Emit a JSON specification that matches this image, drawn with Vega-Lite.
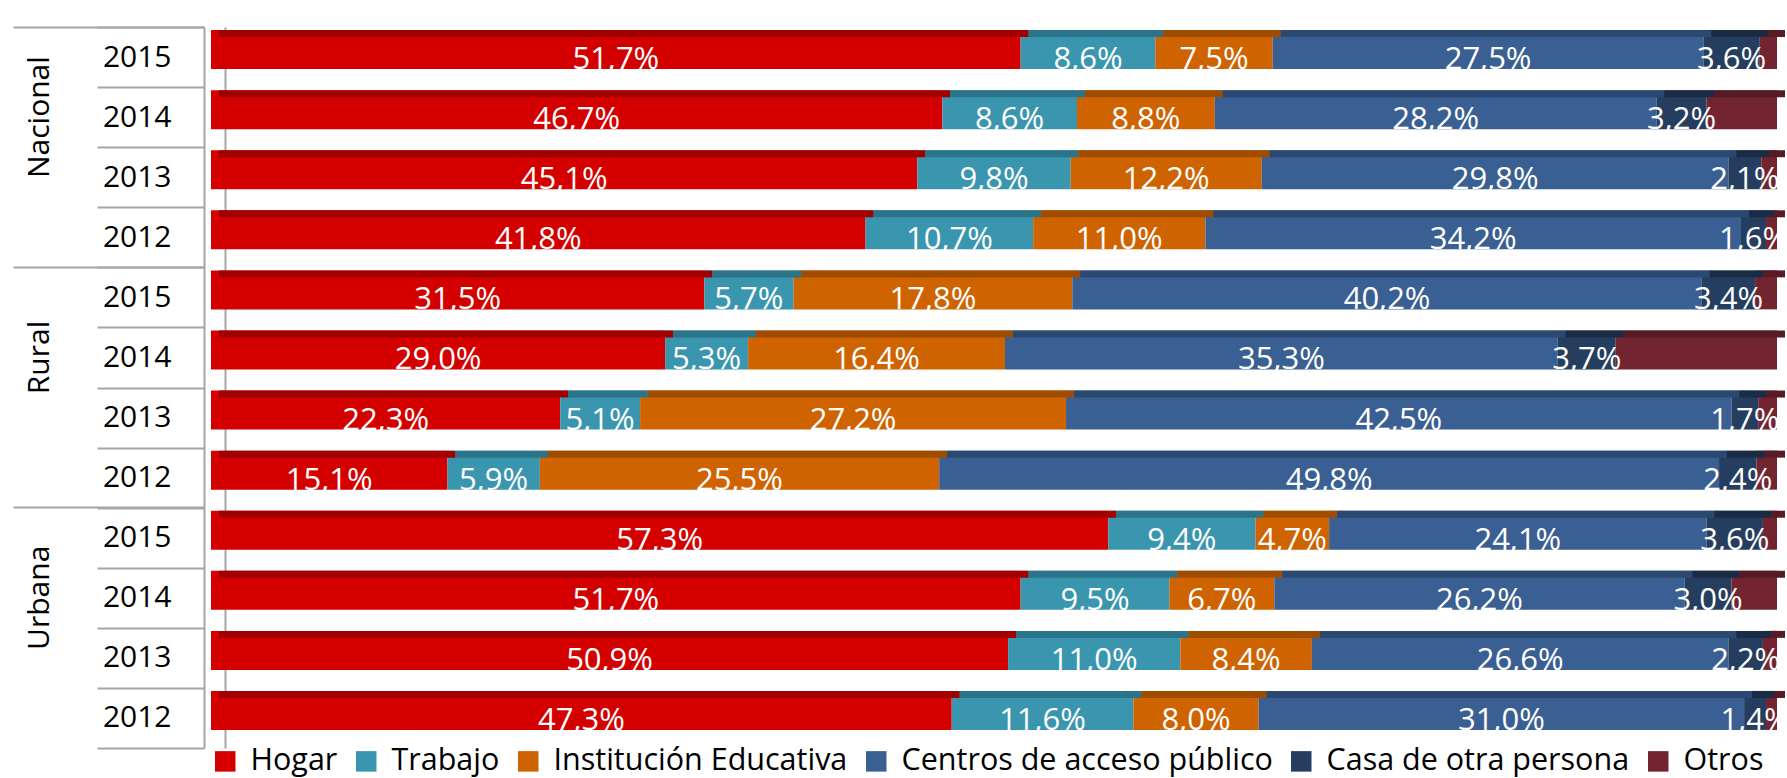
{
  "$schema": "https://vega.github.io/schema/vega-lite/v6.json",
  "width": 1566,
  "height": 721,
  "autosize": {"type": "none"},
  "padding": {"left": 211, "top": 27, "right": 10, "bottom": 30},
  "background": "white",
  "config": {
    "view": {"stroke": null},
    "font": "Open Sans"
  },
  "datasets": {
    "categorias": [
      {"cat": "Hogar", "orden": 1},
      {"cat": "Trabajo", "orden": 2},
      {"cat": "Institución Educativa", "orden": 3},
      {"cat": "Centros de acceso público", "orden": 4},
      {"cat": "Casa de otra persona", "orden": 5},
      {"cat": "Otros", "orden": 6}
    ]
  },
  "data": {"values": [
    {"fila": "Nacional 2015", "cat": "Hogar", "v": 0.517, "etiqueta": "51,7%"},
    {"fila": "Nacional 2015", "cat": "Trabajo", "v": 0.086, "etiqueta": "8,6%"},
    {"fila": "Nacional 2015", "cat": "Institución Educativa", "v": 0.075, "etiqueta": "7,5%"},
    {"fila": "Nacional 2015", "cat": "Centros de acceso público", "v": 0.275, "etiqueta": "27,5%"},
    {"fila": "Nacional 2015", "cat": "Casa de otra persona", "v": 0.036, "etiqueta": "3,6%"},
    {"fila": "Nacional 2015", "cat": "Otros", "v": 0.011, "etiqueta": ""},
    {"fila": "Nacional 2014", "cat": "Hogar", "v": 0.467, "etiqueta": "46,7%"},
    {"fila": "Nacional 2014", "cat": "Trabajo", "v": 0.086, "etiqueta": "8,6%"},
    {"fila": "Nacional 2014", "cat": "Institución Educativa", "v": 0.088, "etiqueta": "8,8%"},
    {"fila": "Nacional 2014", "cat": "Centros de acceso público", "v": 0.282, "etiqueta": "28,2%"},
    {"fila": "Nacional 2014", "cat": "Casa de otra persona", "v": 0.032, "etiqueta": "3,2%"},
    {"fila": "Nacional 2014", "cat": "Otros", "v": 0.045, "etiqueta": ""},
    {"fila": "Nacional 2013", "cat": "Hogar", "v": 0.451, "etiqueta": "45,1%"},
    {"fila": "Nacional 2013", "cat": "Trabajo", "v": 0.098, "etiqueta": "9,8%"},
    {"fila": "Nacional 2013", "cat": "Institución Educativa", "v": 0.122, "etiqueta": "12,2%"},
    {"fila": "Nacional 2013", "cat": "Centros de acceso público", "v": 0.298, "etiqueta": "29,8%"},
    {"fila": "Nacional 2013", "cat": "Casa de otra persona", "v": 0.021, "etiqueta": "2,1%"},
    {"fila": "Nacional 2013", "cat": "Otros", "v": 0.010, "etiqueta": ""},
    {"fila": "Nacional 2012", "cat": "Hogar", "v": 0.418, "etiqueta": "41,8%"},
    {"fila": "Nacional 2012", "cat": "Trabajo", "v": 0.107, "etiqueta": "10,7%"},
    {"fila": "Nacional 2012", "cat": "Institución Educativa", "v": 0.110, "etiqueta": "11,0%"},
    {"fila": "Nacional 2012", "cat": "Centros de acceso público", "v": 0.342, "etiqueta": "34,2%"},
    {"fila": "Nacional 2012", "cat": "Casa de otra persona", "v": 0.016, "etiqueta": "1,6%"},
    {"fila": "Nacional 2012", "cat": "Otros", "v": 0.007, "etiqueta": ""},
    {"fila": "Rural 2015", "cat": "Hogar", "v": 0.315, "etiqueta": "31,5%"},
    {"fila": "Rural 2015", "cat": "Trabajo", "v": 0.057, "etiqueta": "5,7%"},
    {"fila": "Rural 2015", "cat": "Institución Educativa", "v": 0.178, "etiqueta": "17,8%"},
    {"fila": "Rural 2015", "cat": "Centros de acceso público", "v": 0.402, "etiqueta": "40,2%"},
    {"fila": "Rural 2015", "cat": "Casa de otra persona", "v": 0.034, "etiqueta": "3,4%"},
    {"fila": "Rural 2015", "cat": "Otros", "v": 0.014, "etiqueta": ""},
    {"fila": "Rural 2014", "cat": "Hogar", "v": 0.290, "etiqueta": "29,0%"},
    {"fila": "Rural 2014", "cat": "Trabajo", "v": 0.053, "etiqueta": "5,3%"},
    {"fila": "Rural 2014", "cat": "Institución Educativa", "v": 0.164, "etiqueta": "16,4%"},
    {"fila": "Rural 2014", "cat": "Centros de acceso público", "v": 0.353, "etiqueta": "35,3%"},
    {"fila": "Rural 2014", "cat": "Casa de otra persona", "v": 0.037, "etiqueta": "3,7%"},
    {"fila": "Rural 2014", "cat": "Otros", "v": 0.103, "etiqueta": ""},
    {"fila": "Rural 2013", "cat": "Hogar", "v": 0.223, "etiqueta": "22,3%"},
    {"fila": "Rural 2013", "cat": "Trabajo", "v": 0.051, "etiqueta": "5,1%"},
    {"fila": "Rural 2013", "cat": "Institución Educativa", "v": 0.272, "etiqueta": "27,2%"},
    {"fila": "Rural 2013", "cat": "Centros de acceso público", "v": 0.425, "etiqueta": "42,5%"},
    {"fila": "Rural 2013", "cat": "Casa de otra persona", "v": 0.017, "etiqueta": "1,7%"},
    {"fila": "Rural 2013", "cat": "Otros", "v": 0.012, "etiqueta": ""},
    {"fila": "Rural 2012", "cat": "Hogar", "v": 0.151, "etiqueta": "15,1%"},
    {"fila": "Rural 2012", "cat": "Trabajo", "v": 0.059, "etiqueta": "5,9%"},
    {"fila": "Rural 2012", "cat": "Institución Educativa", "v": 0.255, "etiqueta": "25,5%"},
    {"fila": "Rural 2012", "cat": "Centros de acceso público", "v": 0.498, "etiqueta": "49,8%"},
    {"fila": "Rural 2012", "cat": "Casa de otra persona", "v": 0.024, "etiqueta": "2,4%"},
    {"fila": "Rural 2012", "cat": "Otros", "v": 0.013, "etiqueta": ""},
    {"fila": "Urbana 2015", "cat": "Hogar", "v": 0.573, "etiqueta": "57,3%"},
    {"fila": "Urbana 2015", "cat": "Trabajo", "v": 0.094, "etiqueta": "9,4%"},
    {"fila": "Urbana 2015", "cat": "Institución Educativa", "v": 0.047, "etiqueta": "4,7%"},
    {"fila": "Urbana 2015", "cat": "Centros de acceso público", "v": 0.241, "etiqueta": "24,1%"},
    {"fila": "Urbana 2015", "cat": "Casa de otra persona", "v": 0.036, "etiqueta": "3,6%"},
    {"fila": "Urbana 2015", "cat": "Otros", "v": 0.009, "etiqueta": ""},
    {"fila": "Urbana 2014", "cat": "Hogar", "v": 0.517, "etiqueta": "51,7%"},
    {"fila": "Urbana 2014", "cat": "Trabajo", "v": 0.095, "etiqueta": "9,5%"},
    {"fila": "Urbana 2014", "cat": "Institución Educativa", "v": 0.067, "etiqueta": "6,7%"},
    {"fila": "Urbana 2014", "cat": "Centros de acceso público", "v": 0.262, "etiqueta": "26,2%"},
    {"fila": "Urbana 2014", "cat": "Casa de otra persona", "v": 0.030, "etiqueta": "3,0%"},
    {"fila": "Urbana 2014", "cat": "Otros", "v": 0.029, "etiqueta": ""},
    {"fila": "Urbana 2013", "cat": "Hogar", "v": 0.509, "etiqueta": "50,9%"},
    {"fila": "Urbana 2013", "cat": "Trabajo", "v": 0.110, "etiqueta": "11,0%"},
    {"fila": "Urbana 2013", "cat": "Institución Educativa", "v": 0.084, "etiqueta": "8,4%"},
    {"fila": "Urbana 2013", "cat": "Centros de acceso público", "v": 0.266, "etiqueta": "26,6%"},
    {"fila": "Urbana 2013", "cat": "Casa de otra persona", "v": 0.022, "etiqueta": "2,2%"},
    {"fila": "Urbana 2013", "cat": "Otros", "v": 0.009, "etiqueta": ""},
    {"fila": "Urbana 2012", "cat": "Hogar", "v": 0.473, "etiqueta": "47,3%"},
    {"fila": "Urbana 2012", "cat": "Trabajo", "v": 0.116, "etiqueta": "11,6%"},
    {"fila": "Urbana 2012", "cat": "Institución Educativa", "v": 0.080, "etiqueta": "8,0%"},
    {"fila": "Urbana 2012", "cat": "Centros de acceso público", "v": 0.310, "etiqueta": "31,0%"},
    {"fila": "Urbana 2012", "cat": "Casa de otra persona", "v": 0.014, "etiqueta": "1,4%"},
    {"fila": "Urbana 2012", "cat": "Otros", "v": 0.007, "etiqueta": ""}
  ]},
  "transform": [
    {"lookup": "cat", "from": {"data": {"name": "categorias"}, "key": "cat", "fields": ["orden"]}}
  ],
  "encoding": {
    "x": {"field": "v", "type": "quantitative", "stack": "zero", "scale": {"domain": [0, 1], "nice": false}, "axis": null},
    "order": {"field": "orden", "type": "quantitative", "sort": "ascending"}
  },
  "layer": [
    {
      "mark": {"type": "bar", "height": 39, "yOffset": -7.5},
      "encoding": {
        "y": {
          "field": "fila", "type": "nominal",
          "sort": ["Nacional 2015", "Nacional 2014", "Nacional 2013", "Nacional 2012", "Rural 2015", "Rural 2014", "Rural 2013", "Rural 2012", "Urbana 2015", "Urbana 2014", "Urbana 2013", "Urbana 2012"],
          "scale": {"paddingInner": 0, "paddingOuter": 0},
          "axis": {
            "orient": "left", "offset": 7, "title": null,
            "tickBand": "extent", "tickSize": 107, "tickColor": "#A6A6A6", "tickWidth": 2,
            "domainColor": "#A6A6A6", "domainWidth": 2,
            "labelExpr": "split(datum.label, ' ')[1]",
            "labelFont": "Open Sans", "labelFontSize": 30, "labelColor": "black",
            "labelPadding": -74, "labelAlign": "right", "labelBaseline": "middle"
          }
        },
        "color": {
          "field": "cat", "type": "nominal",
          "scale": {
            "domain": ["Hogar", "Trabajo", "Institución Educativa", "Centros de acceso público", "Casa de otra persona", "Otros"],
            "range": ["#D40000", "#3A96AF", "#CF6300", "#3A5F92", "#253D5E", "#722531"]
          },
          "legend": {
            "orient": "none", "legendX": -1, "legendY": 719, "direction": "horizontal", "title": null,
            "symbolType": "square", "symbolSize": 420, "symbolStrokeWidth": 0,
            "labelFont": "Open Sans", "labelFontSize": 30.5, "labelColor": "black", "labelLimit": 1000,
            "labelOffset": 10, "columnPadding": 13, "padding": 0
          }
        }
      }
    },
    {
      "mark": {"type": "bar", "height": 7, "yOffset": -23.5, "xOffset": 8},
      "encoding": {
        "y": {
          "field": "fila", "type": "nominal",
          "sort": ["Nacional 2015", "Nacional 2014", "Nacional 2013", "Nacional 2012", "Rural 2015", "Rural 2014", "Rural 2013", "Rural 2012", "Urbana 2015", "Urbana 2014", "Urbana 2013", "Urbana 2012"],
          "scale": {"paddingInner": 0, "paddingOuter": 0},
          "axis": {
            "orient": "left", "offset": -14, "title": null,
            "values": ["Nacional 2014", "Rural 2014", "Urbana 2014"], "bandPosition": 1,
            "ticks": false, "domain": true, "domainColor": "#A6A6A6", "domainWidth": 2,
            "labelExpr": "split(datum.label, ' ')[0]",
            "labelAngle": -90, "labelAlign": "center", "labelBaseline": "middle",
            "labelFont": "Open Sans", "labelFontSize": 30, "labelColor": "black",
            "labelPadding": 186
          }
        },
        "color": {
          "field": "cat", "type": "nominal",
          "scale": {
            "domain": ["Hogar", "Trabajo", "Institución Educativa", "Centros de acceso público", "Casa de otra persona", "Otros"],
            "range": ["#A00000", "#2B7489", "#A04C00", "#2B4870", "#1A2C45", "#561B24"]
          },
          "legend": null
        }
      }
    },
    {
      "mark": {"type": "text", "color": "white", "font": "Open Sans", "fontSize": 31, "baseline": "alphabetic", "yOffset": 12},
      "encoding": {
        "x": {"field": "v", "type": "quantitative", "stack": "zero", "bandPosition": 0.5, "scale": {"domain": [0, 1], "nice": false}, "axis": null},
        "y": {
          "field": "fila", "type": "nominal",
          "sort": ["Nacional 2015", "Nacional 2014", "Nacional 2013", "Nacional 2012", "Rural 2015", "Rural 2014", "Rural 2013", "Rural 2012", "Urbana 2015", "Urbana 2014", "Urbana 2013", "Urbana 2012"],
          "scale": {"paddingInner": 0, "paddingOuter": 0},
          "axis": {
            "orient": "left", "offset": 7, "title": null,
            "values": ["Nacional 2015", "Rural 2015", "Urbana 2015"], "bandPosition": 0,
            "tickSize": 191, "tickColor": "#A6A6A6", "tickWidth": 2,
            "labels": false, "domain": false
          }
        },
        "detail": {"field": "cat"},
        "text": {"field": "etiqueta", "type": "nominal"}
      }
    }
  ],
  "resolve": {"scale": {"color": "independent"}, "axis": {"y": "independent"}}
}
